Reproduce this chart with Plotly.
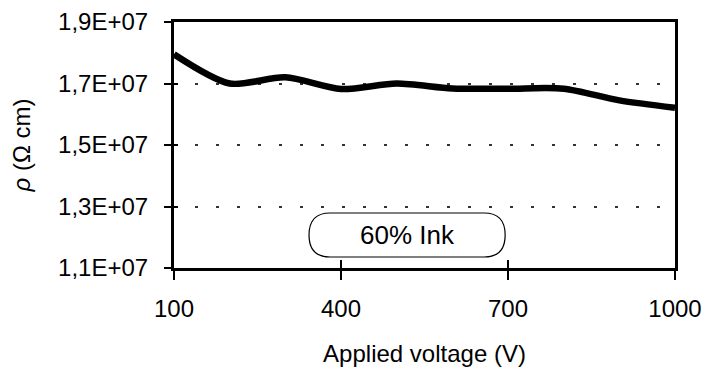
import plotly.graph_objects as go

# Resistivity of the printed layer versus applied voltage
voltage = [100, 200, 300, 400, 500, 600, 700, 800, 900, 1000]
resistivity = [1.795e7, 1.700e7, 1.720e7, 1.682e7, 1.700e7,
               1.684e7, 1.683e7, 1.683e7, 1.645e7, 1.621e7]

x_ticks = [100, 400, 700, 1000]
y_ticks = [1.1e7, 1.3e7, 1.5e7, 1.7e7, 1.9e7]
y_tick_text = ["1,1E+07", "1,3E+07", "1,5E+07", "1,7E+07", "1,9E+07"]
sample_label = "60% Ink"

FONT = "Liberation Sans, Arial, Helvetica, sans-serif"

fig = go.Figure()
fig.add_trace(go.Scatter(
    x=voltage, y=resistivity, mode="lines",
    line=dict(color="black", width=6.5, shape="spline", smoothing=0.8),
    showlegend=False, hoverinfo="x+y",
))

axis_common = dict(showline=True, linecolor="black", mirror=True, zeroline=False,
                   automargin=False)

fig.update_layout(
    width=706, height=375,
    margin=dict(l=174, r=31, t=22, b=107),
    paper_bgcolor="white", plot_bgcolor="white",
    font=dict(family=FONT, color="black"),
    xaxis=dict(
        range=[100, 1000], tickvals=x_ticks, ticktext=[str(v) for v in x_ticks],
        ticks="outside", ticklen=9, tickwidth=1.5, tickcolor="black",
        tickfont=dict(size=24), ticklabelstandoff=8, showgrid=False, linewidth=2.5,
        title=dict(text="Applied voltage (V)", font=dict(size=24), standoff=25),
        **axis_common,
    ),
    yaxis=dict(
        range=[1.1e7, 1.9e7], tickvals=y_ticks, ticktext=y_tick_text,
        ticks="outside", ticklen=7, tickwidth=1.5, tickcolor="black",
        tickfont=dict(size=24), ticklabelstandoff=11,
        showgrid=True, gridcolor="#333333", gridwidth=1.5, griddash="3px,18px",
        linewidth=3,
        title=dict(text="<i>ρ</i> (Ω cm)", font=dict(size=24), standoff=21),
        **axis_common,
    ),
    # overlaid axes carrying the inward half of the tick marks
    xaxis2=dict(overlaying="x", matches="x", range=[100, 1000], tickvals=x_ticks,
                showticklabels=False, ticks="inside", ticklen=8, tickwidth=1.5,
                tickcolor="black", showgrid=False, showline=False, zeroline=False,
                automargin=False),
    yaxis2=dict(overlaying="y", matches="y", range=[1.1e7, 1.9e7], tickvals=y_ticks,
                showticklabels=False, ticks="inside", ticklen=4, tickwidth=1.5,
                tickcolor="black", showgrid=False, showline=False, zeroline=False,
                automargin=False),
)

# invisible trace so the overlaid tick axes are drawn
fig.add_trace(go.Scatter(x=[voltage[0]], y=[resistivity[0]], xaxis="x2", yaxis="y2",
                         mode="markers", marker=dict(opacity=0), showlegend=False,
                         hoverinfo="skip"))

# rounded label box (paper coordinates)
x0, x1, y0, y1 = 0.2695, 0.661, 0.0447, 0.2236
rx = 0.042
ym = (y0 + y1) / 2
path = (f"M {x0+rx},{y0} L {x1-rx},{y0} Q {x1},{y0} {x1},{ym} "
        f"Q {x1},{y1} {x1-rx},{y1} L {x0+rx},{y1} Q {x0},{y1} {x0},{ym} "
        f"Q {x0},{y0} {x0+rx},{y0} Z")
fig.add_shape(type="path", path=path, xref="paper", yref="paper",
              line=dict(color="black", width=1.2), fillcolor="white")
fig.add_annotation(text=sample_label, xref="paper", yref="paper",
                   x=(x0 + x1) / 2, y=ym, xanchor="center", yanchor="middle",
                   showarrow=False,
                   font=dict(size=26, family=FONT, color="black"))

fig.write_html("out.html")
